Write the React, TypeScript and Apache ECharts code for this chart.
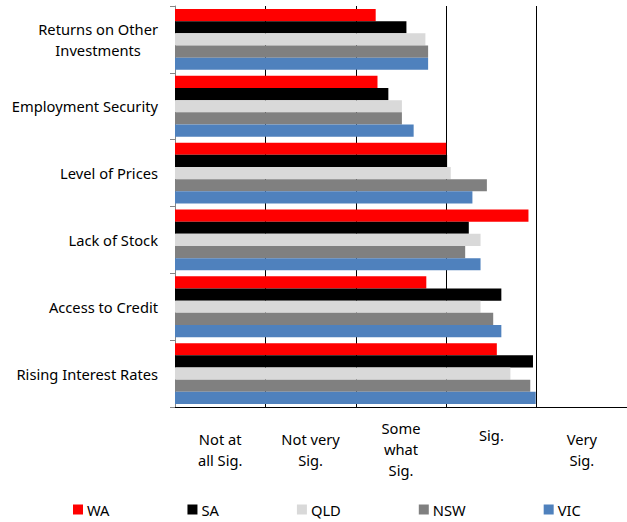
import React, { useEffect, useRef } from "react";
import * as echarts from "echarts";

const categories = [
  "Returns on Other\nInvestments",
  "Employment Security",
  "Level of Prices",
  "Lack of Stock",
  "Access to Credit",
  "Rising Interest Rates",
];
const scaleLabels = ["Not at\nall Sig.", "Not very\nSig.", "Some\nwhat\nSig.", "Sig.", "Very\nSig."];
const seriesNames = ["WA", "SA", "QLD", "NSW", "VIC"];
const colors = ["#FF0000", "#000000", "#D9D9D9", "#808080", "#4F81BD"];
const WA = [2.22, 2.24, 3.0, 3.91, 2.78, 3.56];
const SA = [2.56, 2.36, 3.01, 3.25, 3.61, 3.96];
const QLD = [2.77, 2.51, 3.05, 3.38, 3.38, 3.71];
const NSW = [2.8, 2.51, 3.45, 3.21, 3.52, 3.93];
const VIC = [2.8, 2.64, 3.29, 3.38, 3.61, 3.99];
const values = [WA, SA, QLD, NSW, VIC];

const FONT = "Noto Sans";
const FS = 14.7;

export default function App() {
  const ref = useRef<HTMLDivElement>(null);
  useEffect(() => {
    if (!ref.current) return;
    const chart = echarts.init(ref.current, null, { renderer: "svg" });
    const base = { fontSize: FS, fontFamily: FONT, color: "#000", lineHeight: 21 };
    chart.setOption({
      animation: false,
      textStyle: { fontFamily: FONT },
      grid: { left: 175, top: 6, right: -3, bottom: 115, containLabel: false },
      legend: {
        top: 502,
        left: 73,
        padding: 0,
        icon: "rect",
        itemWidth: 10,
        itemHeight: 10,
        itemGap: 78,
        textStyle: { fontFamily: FONT, fontSize: FS, color: "#000", padding: [0, 0, 0, -1] },
        data: seriesNames,
      },
      xAxis: [
        {
          type: "value",
          min: 0,
          max: 5,
          interval: 1,
          axisLabel: { show: false },
          axisLine: { show: false },
          axisTick: { show: false },
          splitLine: { show: true, showMinLine: false, lineStyle: { color: "#000", width: 1 } },
        },
        {
          type: "category",
          position: "bottom",
          data: scaleLabels,
          boundaryGap: true,
          axisLine: { show: true, lineStyle: { color: "#000", width: 1 } },
          axisTick: { show: false },
          axisLabel: {
            interval: 0,
            margin: 42,
            verticalAlign: "middle",
            align: "center",
            ...base,
            formatter: (v: string) =>
              v === "Sig."
                ? "{s|Sig.}"
                : v
                    .split("\n")
                    .map((l) => `{a|${l}}`)
                    .join("\n"),
            rich: {
              a: { ...base, align: "center" },
              s: { ...base, align: "center", padding: [0, 0, 28, 0] },
            },
          },
          splitLine: { show: false },
        },
      ],
      yAxis: {
        type: "category",
        inverse: true,
        data: categories,
        axisLine: { show: true, lineStyle: { color: "#868686" } },
        axisTick: { show: true, length: 5, lineStyle: { color: "#868686" } },
        axisLabel: {
          margin: 17,
          ...base,
          formatter: (v: string) =>
            v
              .split("\n")
              .map((l) => `{a|${l}}`)
              .join("\n"),
          rich: { a: { ...base, align: "center" } },
        },
      },
      series: seriesNames.map((name, i) => ({
        name,
        type: "bar",
        xAxisIndex: 0,
        data: values[i],
        barGap: "0%",
        barCategoryGap: "9%",
        itemStyle: { color: colors[i] },
      })),
    });
    return () => chart.dispose();
  }, []);
  return <div ref={ref} style={{ width: 627, height: 522, position: "absolute", left: 0, top: 0 }} />;
}
